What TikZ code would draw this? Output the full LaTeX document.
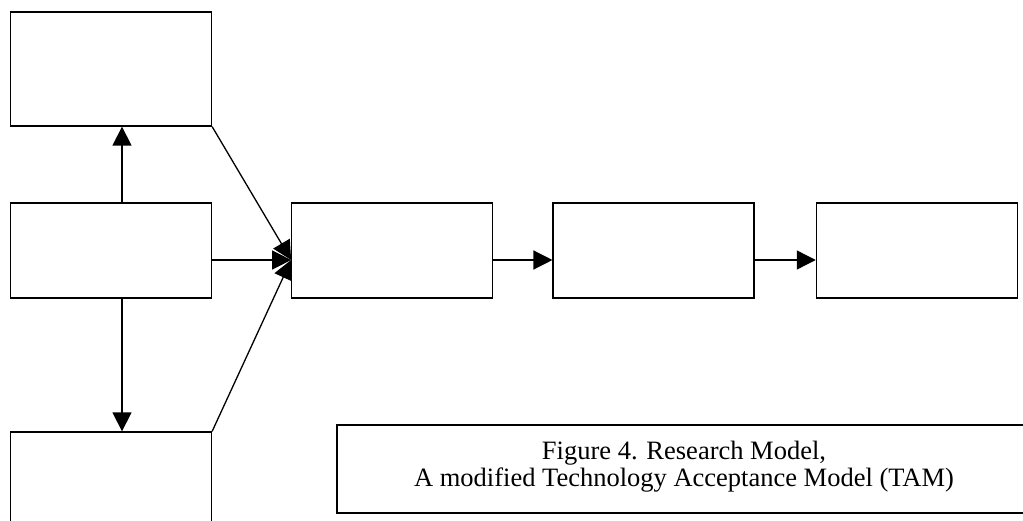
\documentclass[tikz,border=0pt]{standalone}
\usepackage{fontspec}
\setmainfont{Liberation Serif}
\usetikzlibrary{arrows.meta,positioning}

\tikzset{
  blk/.style={draw, line width=1.3pt, minimum width=201pt, minimum height=95pt, inner sep=0pt},
  tall/.style={blk, minimum height=114pt},
  arr/.style={line width=1.3pt, -{Triangle[length=19pt,width=19pt]}}
}

\begin{document}
\begin{tikzpicture}[x=1pt,y=-1pt]
  \clip(0,0)rectangle(1023,521);
  \fill[white](0,0)rectangle(1023,521);
  % left column
  \node[blk](mid)at(111,250.5){};
  \node[tall](top)at(111,69){};
  \node[tall](bot)at(111,489){};
  % main chain
  \node[blk,right=79pt of mid](use){};
  \node[blk,right=59pt of use](att){};
  \node[blk,right=61pt of att](beh){};
  \coordinate(in)at([yshift=-9.5pt]use.west);
  \draw[arr]([xshift=11pt]mid.north)--([xshift=11pt]top.south);
  \draw[arr]([xshift=11pt]mid.south)--([xshift=11pt]bot.north);
  \draw[arr](top.south east)--(in);
  \draw[arr]([yshift=-9.5pt]mid.east)--(in);
  \draw[arr](bot.north east)--(in);
  \draw[arr]([yshift=-9.5pt]use.east)--([yshift=-9.5pt]att.west);
  \draw[arr]([yshift=-9.5pt]att.east)--([yshift=-9.5pt]beh.west);
  % caption
  \draw[line width=1.5pt](337,425)rectangle(1040,513);
  \node[align=center,font=\fontsize{26.5}{27}\selectfont](cap)at(684,467)
    {Figure 4. Research Model,\\A modified Technology Acceptance Model (TAM)};
\end{tikzpicture}
\end{document}
